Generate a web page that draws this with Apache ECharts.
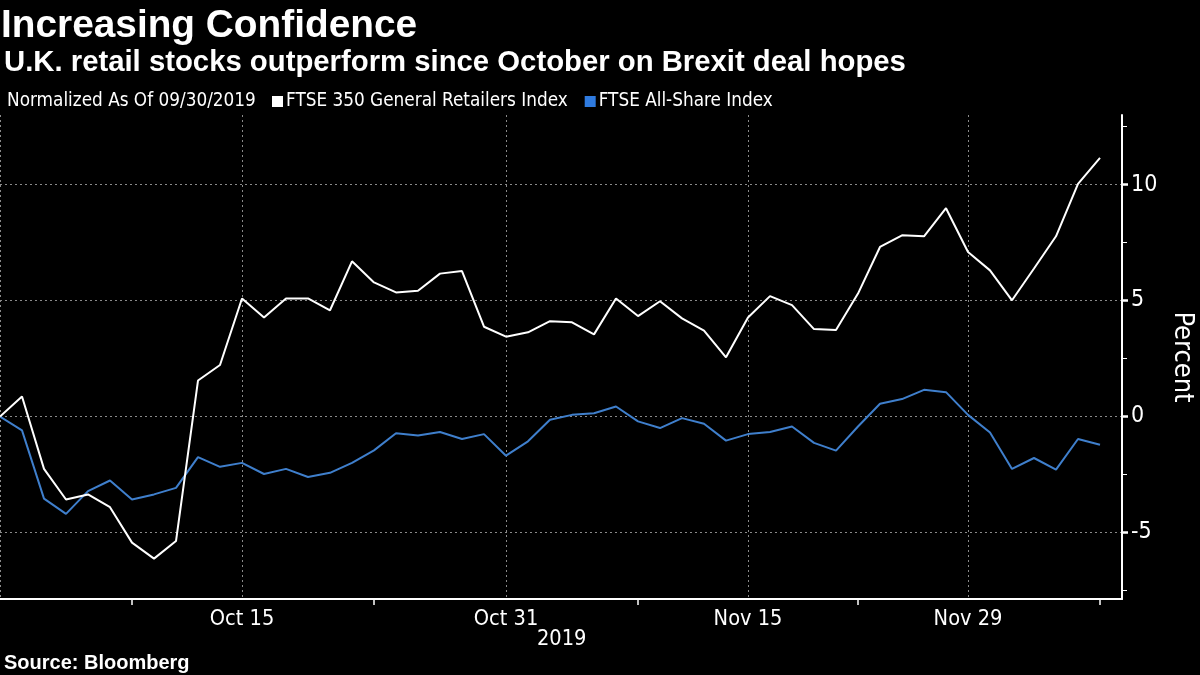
<!DOCTYPE html>
<html>
<head>
<meta charset="utf-8">
<script src="https://cdn.jsdelivr.net/npm/echarts@6/dist/echarts.min.js"></script>
<style>
html,body{margin:0;padding:0;background:#000;}
#chart{width:1200px;height:675px;}
</style>
</head>
<body>
<div id="chart"></div>
<script>
// Trading days (category axis); last '' is axis padding past the final point
const dates = ['Sep 30','Oct 1','Oct 2','Oct 3','Oct 4','Oct 7','Oct 8','Oct 9','Oct 10','Oct 11',
  'Oct 14','Oct 15','Oct 16','Oct 17','Oct 18','Oct 21','Oct 22','Oct 23','Oct 24','Oct 25',
  'Oct 28','Oct 29','Oct 30','Oct 31','Nov 1','Nov 4','Nov 5','Nov 6','Nov 7','Nov 8',
  'Nov 11','Nov 12','Nov 13','Nov 14','Nov 15','Nov 18','Nov 19','Nov 20','Nov 21','Nov 22',
  'Nov 25','Nov 26','Nov 27','Nov 28','Nov 29','Dec 2','Dec 3','Dec 4','Dec 5','Dec 6','Dec 9'];
const axisPad = [''];
const labelDates = ['Oct 15','Oct 31','Nov 15','Nov 29'];
const gridDates = ['Sep 30','Oct 15','Oct 31','Nov 15','Nov 29'];
const tickDates = ['Oct 8','Oct 23','Nov 8','Nov 22','Dec 9'];
const yearLabel = '2019';

const retailers = [0, 0.86, -2.26, -3.58, -3.36, -3.91, -5.44, -6.13, -5.37, 1.55,
  2.22, 5.09, 4.27, 5.09, 5.09, 4.58, 6.69, 5.78, 5.35, 5.42,
  6.16, 6.27, 3.87, 3.44, 3.63, 4.11, 4.06, 3.54, 5.09, 4.33,
  4.97, 4.23, 3.70, 2.55, 4.27, 5.19, 4.80, 3.77, 3.73, 5.30,
  7.31, 7.81, 7.77, 8.98, 7.09, 6.30, 5.01, 6.38, 7.77, 10.03, 11.15];
const allShare = [0, -0.60, -3.54, -4.20, -3.22, -2.76, -3.58, -3.36, -3.08, -1.75,
  -2.17, -2.00, -2.48, -2.26, -2.61, -2.43, -2.00, -1.46, -0.72, -0.82,
  -0.67, -0.97, -0.76, -1.69, -1.07, -0.14, 0.07, 0.14, 0.43, -0.21,
  -0.50, -0.07, -0.31, -1.04, -0.76, -0.67, -0.43, -1.14, -1.47, -0.43,
  0.55, 0.75, 1.15, 1.05, 0.07, -0.69, -2.26, -1.79, -2.29, -0.97, -1.22];

const yMajor = [-5, 0, 5, 10];
const yMinor = [-7.5, -2.5, 2.5, 7.5, 12.5];
const yMin = -7.87, yMax = 13;

const BOLD = 'Liberation Sans';
const NARROW = '"Liberation Sans Narrow", "DejaVu Sans Condensed", "Liberation Sans"';
const chart = echarts.init(document.getElementById('chart'), null, {renderer: 'canvas'});
const cats = dates.concat(axisPad);

chart.setOption({
  backgroundColor: '#000000',
  animation: false,
  textStyle: {fontFamily: NARROW},
  title: [
    {text: 'Increasing Confidence', left: 1, top: 7, padding: 0,
     textStyle: {color: '#fff', fontSize: 38.8, fontWeight: 'bold', fontFamily: BOLD}},
    {text: 'U.K. retail stocks outperform since October on Brexit deal hopes', left: 4, top: 48, padding: 0,
     textStyle: {color: '#fff', fontSize: 29.3, fontWeight: 'bold', fontFamily: BOLD}},
    {text: 'Normalized As Of 09/30/2019', left: 7, top: 92, padding: 0,
     textStyle: {color: '#fff', fontSize: 18.8, fontWeight: 'normal', fontFamily: NARROW}},
    {text: 'Source: Bloomberg', left: 4, top: 653, padding: 0,
     textStyle: {color: '#fff', fontSize: 20, fontWeight: 'bold', fontFamily: BOLD}}
  ],
  legend: {
    left: 267, top: 87, itemWidth: 11, itemHeight: 11, itemGap: 17, icon: 'rect',
    textStyle: {color: '#fff', fontSize: 18.8, fontFamily: NARROW, padding: [0, 0, 0, -2]},
    data: ['FTSE 350 General Retailers Index', 'FTSE All-Share Index']
  },
  grid: {left: 0, right: 78, top: 115, bottom: 76, containLabel: false, outerBoundsMode: 'none'},
  xAxis: {
    type: 'category', boundaryGap: false, data: cats,
    axisLine: {onZero: false, lineStyle: {color: '#fff', width: 2}},
    axisTick: {show: true, length: 6, lineStyle: {color: '#fff', width: 1.5},
      interval: (i, v) => tickDates.indexOf(v) >= 0},
    axisLabel: {color: '#fff', fontSize: 21.6, margin: 9, fontFamily: NARROW,
      interval: (i, v) => labelDates.indexOf(v) >= 0},
    splitLine: {show: true, interval: (i, v) => gridDates.indexOf(v) >= 0,
      lineStyle: {color: '#8a8a8a', width: 1, type: [2, 3]}}
  },
  yAxis: [
    {
      type: 'value', position: 'right', min: yMin, max: yMax,
      name: 'Percent', nameLocation: 'middle', nameRotate: -90, nameGap: 47,
      nameTextStyle: {color: '#fff', fontSize: 27, fontFamily: NARROW},
      axisLine: {show: true, lineStyle: {color: '#fff', width: 2}},
      axisTick: {show: true, inside: false, length: 5, customValues: yMinor,
        lineStyle: {color: '#fff', width: 1}},
      axisLabel: {color: '#fff', fontSize: 23, margin: 9, customValues: yMajor, fontFamily: NARROW},
      splitLine: {show: false}
    },
    {
      type: 'value', position: 'right', min: yMin, max: yMax,
      axisLine: {show: false},
      axisTick: {show: true, inside: false, length: 6, customValues: yMajor,
        lineStyle: {color: '#fff', width: 2.5}},
      axisLabel: {show: false},
      splitLine: {show: true, lineStyle: {color: '#8a8a8a', width: 1, type: [2, 3]}}
    }
  ],
  series: [
    {name: 'FTSE 350 General Retailers Index', type: 'line', data: retailers,
     yAxisIndex: 0, symbol: 'none', itemStyle: {color: '#ffffff'},
     lineStyle: {color: '#ffffff', width: 2}, z: 3},
    {name: 'FTSE All-Share Index', type: 'line', data: allShare,
     yAxisIndex: 0, symbol: 'none', itemStyle: {color: '#2f7be0'},
     lineStyle: {color: '#3f7fcc', width: 2}, z: 2}
  ],
  graphic: [
    {type: 'text', left: 537, top: 628,
     style: {text: yearLabel, fill: '#fff', fontSize: 21.6, fontFamily: NARROW}}
  ]
});
</script>
</body>
</html>
